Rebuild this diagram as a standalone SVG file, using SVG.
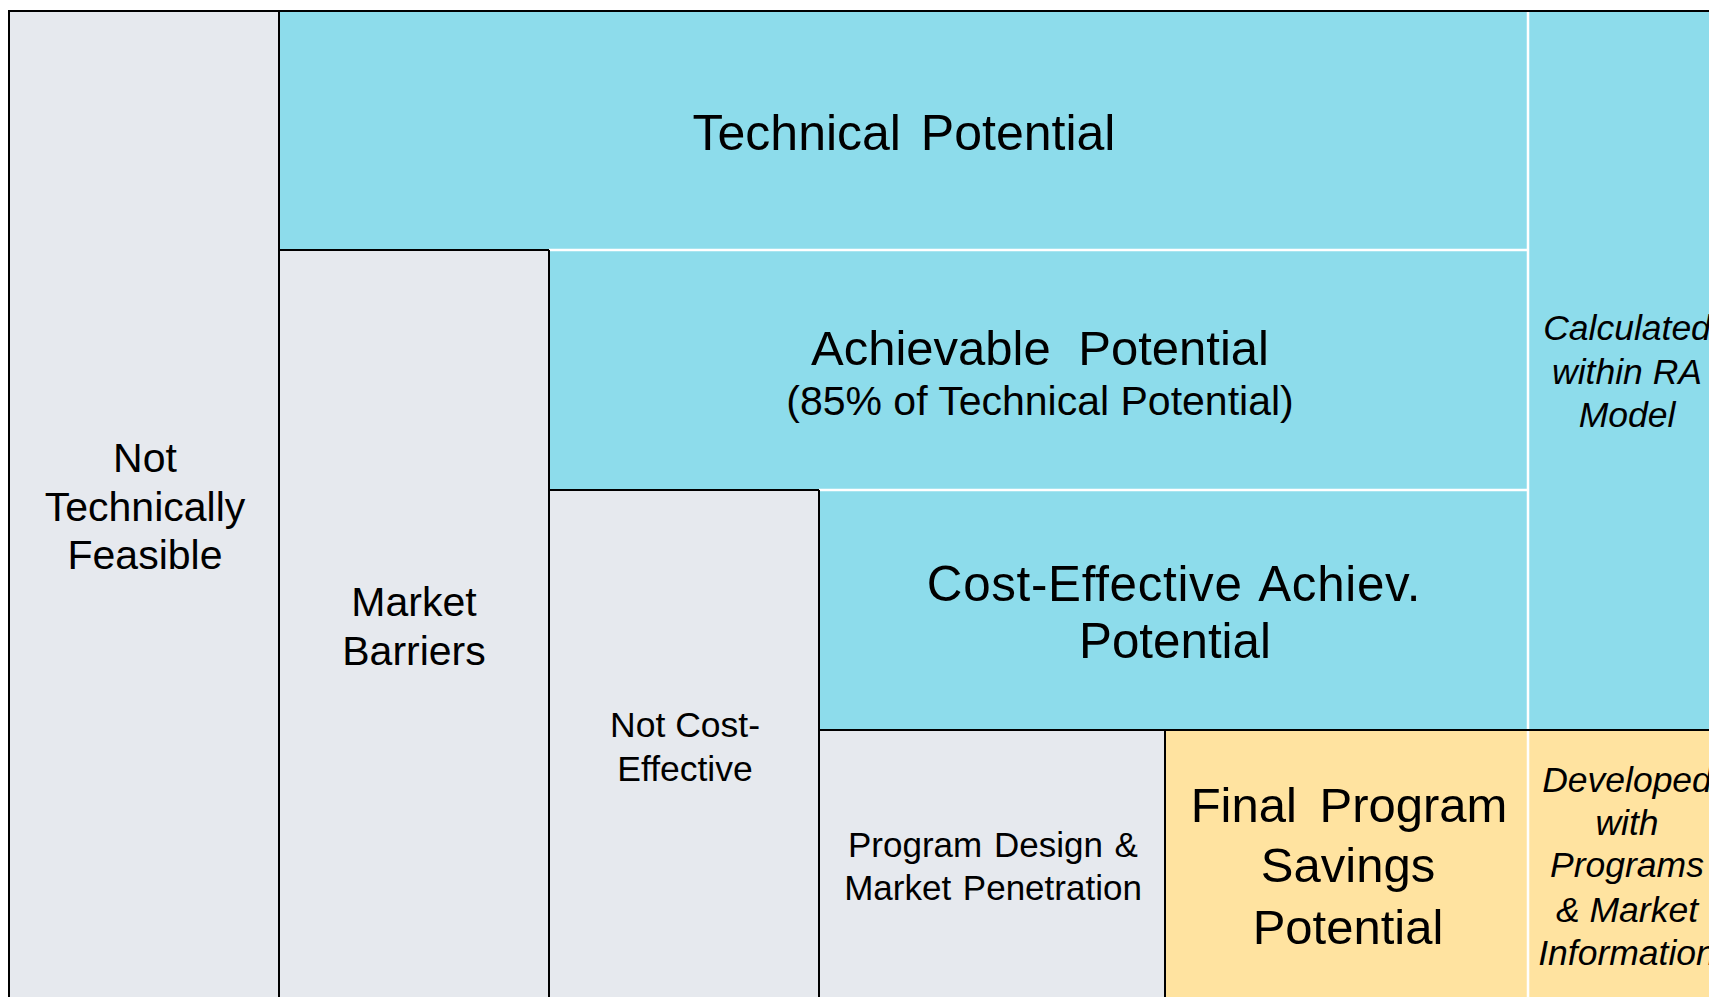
<svg xmlns="http://www.w3.org/2000/svg" width="1709" height="997" viewBox="0 0 1709 997">
<style>
.gray{fill:#E6E9EE;}
.cyan{fill:#8DDCEB;}
.yellow{fill:#FFE3A0;}
.blk{stroke:#000;stroke-width:2;fill:none;}
.wht{stroke:#FFF;stroke-width:2.5;fill:none;}
text{font-family:"Liberation Sans",Arial,sans-serif;fill:#000;text-anchor:middle;}
.it{font-style:italic;font-size:35.5px;}
</style>
<rect x="0" y="0" width="1709" height="997" fill="#FFF"/>
<g id="not-technically-feasible">
<rect class="gray" x="9" y="11" width="270" height="1000"/>
<text font-size="41"><tspan x="145" y="472">Not</tspan><tspan x="145" y="521">Technically</tspan><tspan x="145" y="569">Feasible</tspan></text>
</g>
<g id="technical-potential">
<rect class="cyan" x="279" y="11" width="1249" height="239"/>
<text font-size="50" x="904" y="150" word-spacing="6">Technical Potential</text>
</g>
<g id="market-barriers">
<rect class="gray" x="279" y="250" width="270" height="760"/>
<text font-size="41"><tspan x="414" y="616">Market</tspan><tspan x="414" y="665">Barriers</tspan></text>
</g>
<g id="achievable-potential">
<rect class="cyan" x="549" y="250" width="979" height="240"/>
<text font-size="49" x="1040" y="365" word-spacing="14">Achievable Potential</text>
<text font-size="41" x="1040" y="415">(85% of Technical Potential)</text>
</g>
<g id="not-cost-effective">
<rect class="gray" x="549" y="490" width="270" height="520"/>
<text font-size="35.5"><tspan x="685" y="737">Not Cost-</tspan><tspan x="685" y="781">Effective</tspan></text>
</g>
<g id="cost-effective-achievable">
<rect class="cyan" x="819" y="490" width="709" height="240"/>
<text font-size="49.3"><tspan x="1174" y="601" letter-spacing="0.7" word-spacing="4">Cost-Effective Achiev.</tspan><tspan x="1175" y="658">Potential</tspan></text>
</g>
<g id="program-design">
<rect class="gray" x="819" y="730" width="346" height="280"/>
<text font-size="35" word-spacing="2"><tspan x="993" y="857">Program Design &amp;</tspan><tspan x="993" y="900">Market Penetration</tspan></text>
</g>
<g id="final-program-savings">
<rect class="yellow" x="1165" y="730" width="363" height="280"/>
<text font-size="49"><tspan x="1349" y="822" word-spacing="9">Final Program</tspan><tspan x="1348" y="882">Savings</tspan><tspan x="1348" y="944">Potential</tspan></text>
</g>
<g id="calculated-within-ra">
<rect class="cyan" x="1528" y="11" width="190" height="719"/>
<text class="it"><tspan x="1627" y="340">Calculated</tspan><tspan x="1627" y="384">within RA</tspan><tspan x="1627" y="427">Model</tspan></text>
</g>
<g id="developed-with-programs">
<rect class="yellow" x="1528" y="730" width="190" height="280"/>
<text class="it"><tspan x="1627" y="792">Developed</tspan><tspan x="1627" y="835">with</tspan><tspan x="1627" y="877">Programs</tspan><tspan x="1627" y="922">&amp; Market</tspan><tspan x="1627" y="965">Information</tspan></text>
</g>
<g id="connectors">
<path class="wht" d="M1528 12V997M549 250H1528M819 490H1528"/>
<path class="blk" d="M8 11H1709M9 10V997M279 11V997M279 250H549M549 250V997M549 490H819M819 490V997M819 730H1709M1165 730V997"/>
</g>
</svg>
